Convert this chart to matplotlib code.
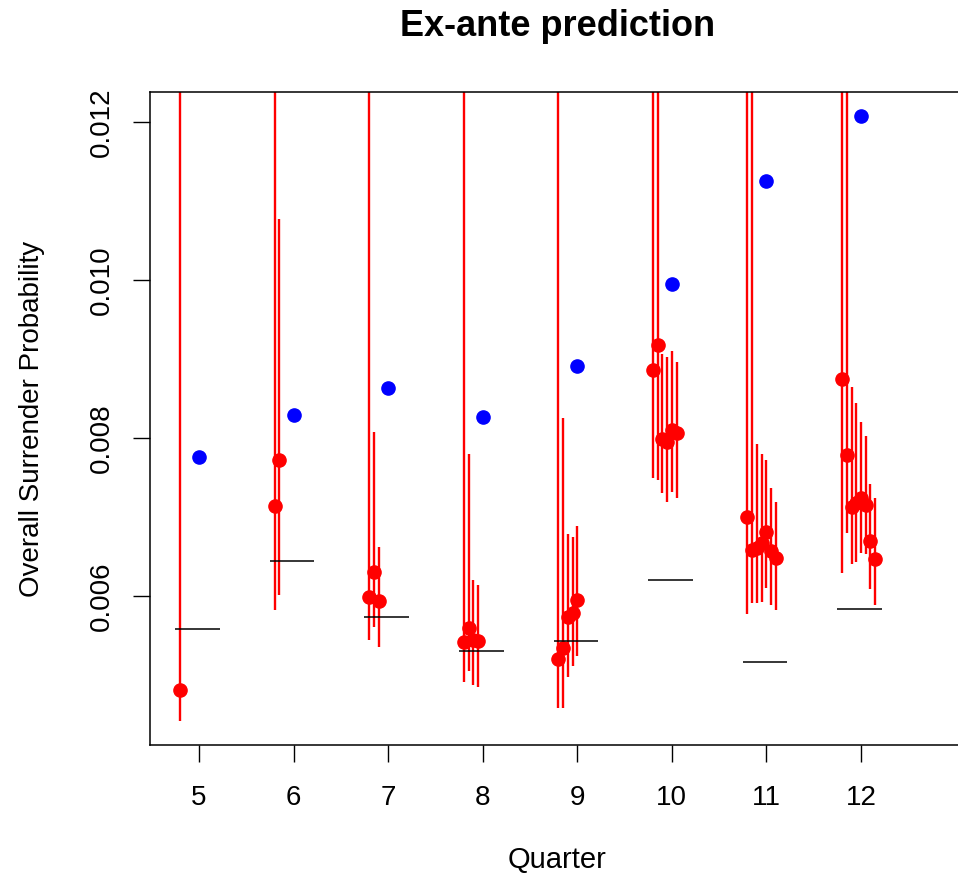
import numpy as np
import matplotlib
matplotlib.use("Agg")
import matplotlib.pyplot as plt

plt.rcParams["font.family"] = ["Liberation Sans", "DejaVu Sans"]

TOP = 0.0140  # upper limits that run off the top of the panel

quarters = [5, 6, 7, 8, 9, 10, 11, 12]
observed = [0.007762, 0.008289, 0.008639, 0.008272, 0.008909, 0.009946, 0.011258, 0.012071]
baseline = [0.005582, 0.006444, 0.005730, 0.005303, 0.005434, 0.006197, 0.005165, 0.005831]

pred_mid = [
    [0.004814],
    [0.007142, 0.007718],
    [0.005992, 0.006308, 0.005937],
    [0.005422, 0.005591, 0.005443, 0.005434],
    [0.005199, 0.005346, 0.005738, 0.005780, 0.005949],
    [0.008861, 0.009177, 0.007983, 0.007953, 0.008101, 0.008060],
    [0.007004, 0.006582, 0.006608, 0.006667, 0.006806, 0.006570, 0.006477],
    [0.008747, 0.007785, 0.007130, 0.007173, 0.007237, 0.007152, 0.006696, 0.006464],
]
pred_lo = [
    [0.004418],
    [0.005823, 0.006015],
    [0.005443, 0.005604, 0.005351],
    [0.004915, 0.005054, 0.004873, 0.004844],
    [0.004580, 0.004580, 0.004973, 0.005110, 0.005242],
    [0.007490, 0.007468, 0.007300, 0.007194, 0.007320, 0.007244],
    [0.005772, 0.005907, 0.005907, 0.005928, 0.006097, 0.005886, 0.005823],
    [0.006287, 0.006794, 0.006405, 0.006434, 0.006548, 0.006527, 0.006085, 0.005886],
]
pred_hi = [
    [TOP],
    [TOP, 0.010775],
    [TOP, 0.008072, 0.006624],
    [TOP, 0.007795, 0.006203, 0.006139],
    [TOP, 0.008256, 0.006781, 0.006751, 0.006890],
    [TOP, TOP, 0.009063, 0.009029, 0.009105, 0.008958],
    [TOP, TOP, 0.007924, 0.007794, 0.007722, 0.007371, 0.007194],
    [TOP, TOP, 0.008649, 0.008447, 0.008206, 0.008025, 0.007418, 0.007244],
]

W, H = 958, 875
fig = plt.figure(figsize=(W / 100, H / 100), dpi=100)
ax = fig.add_axes([150 / W, 1 - 745 / H, (965 - 150) / W, (745 - 92) / H])

for q, mid, lo, hi in zip(quarters, pred_mid, pred_lo, pred_hi):
    xs = q - 0.2 + 0.05 * np.arange(len(mid))
    ax.vlines(xs, lo, hi, color="red", lw=1.7, zorder=2)
    ax.plot(xs, mid, "o", color="red", ms=9.5, mec="red", zorder=3)

ax.plot(quarters, observed, "o", color="blue", ms=9.5, zorder=3)
ax.hlines(baseline, np.array(quarters) - 0.25, np.array(quarters) + 0.22,
          color="black", lw=1.1, zorder=4)

ax.set_xlim(4.482, 13.10)
ax.set_ylim(0.004114, 0.01238)
ax.set_xticks(quarters)
ax.set_yticks([0.006, 0.008, 0.010, 0.012])
ax.set_yticklabels(["0.006", "0.008", "0.010", "0.012"], rotation=90, va="center")
ax.tick_params(length=12, width=1, labelsize=20, direction="out")
ax.tick_params(axis="x", pad=17)
ax.tick_params(axis="y", pad=13)
for s in ax.spines.values():
    s.set_linewidth(1.1)

ax.set_xlabel("Quarter", fontsize=21, labelpad=25)
ax.set_ylabel("Overall Surrender Probability", fontsize=20, labelpad=32)
fig.text(0.5 * (150 + 965) / W, 1 - 27 / H, "Ex-ante prediction", fontsize=26,
         fontweight="bold", ha="center", va="center")

fig.savefig("out.png", dpi=100)
